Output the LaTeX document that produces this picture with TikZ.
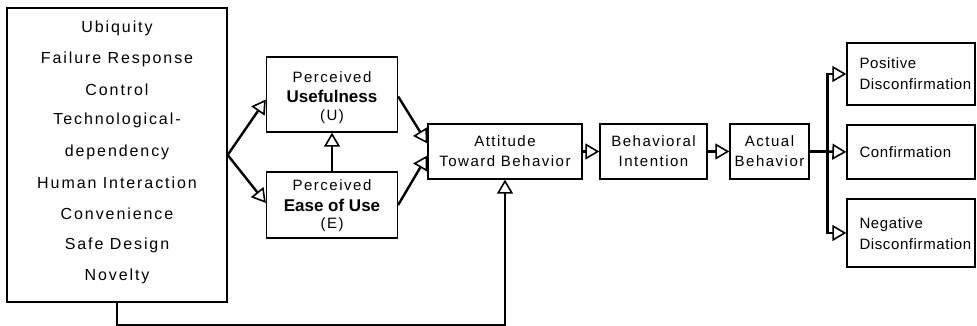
\documentclass[tikz,border=0pt]{standalone}
\usepackage{fontspec}
\setmainfont{Liberation Sans}[LetterSpace=10]
\usetikzlibrary{arrows.meta,calc}
\begin{document}
\begin{tikzpicture}[x=1pt,y=-1pt,
  box/.style={draw,line width=1.3pt,inner sep=0pt,align=center},
  lbl/.style={font=\fontsize{15}{20}\selectfont},
  outlbl/.style={anchor=west,align=left,font=\fontsize{15}{21}\selectfont\addfontfeature{LetterSpace=4}},
  bold/.style={font=\fontsize{17}{20}\selectfont\bfseries\addfontfeature{LetterSpace=0}},
  conn/.style={line width=2.4pt,-{Triangle[open,length=14pt,width=16pt,line width=1.6pt]}},
  plain/.style={line width=2.4pt}]
\useasboundingbox (0,0) rectangle (977,326);

% factor box
\node[box,minimum width=220pt,minimum height=294pt] (lb) at (117,155) {};
\foreach \t/\yy in {Ubiquity/28,Failure Response/59,Control/90,Technological-/120,dependency/152,Human Interaction/183,Convenience/214,Safe Design/245,Novelty/276}
  \node[font=\fontsize{16}{20}\selectfont\addfontfeature{LetterSpace=12}] at (117,\yy) {\t};

% TAM constructs
\node[box,minimum width=131pt,minimum height=75pt] (pu) at (332,94.5) {};
\node[lbl] at (332,77) {Perceived};
\node[bold] at (332,96) {Usefulness};
\node[lbl] at (332,117) {(U)};

\node[box,minimum width=131pt,minimum height=66pt] (peou) at (332,205) {};
\node[lbl] at (332,185) {Perceived};
\node[bold] at (332,205) {Ease of Use};
\node[lbl] at (332,225) {(E)};

\node[box,lbl,minimum width=154pt,minimum height=55pt] (att) at (505,151.5) {Attitude\\Toward Behavior};
\node[box,lbl,minimum width=107pt,minimum height=55pt] (bi) at (653.5,151.5) {Behavioral\\Intention};
\node[box,lbl,minimum width=79pt,minimum height=55pt] (ab) at (769.5,151.5) {Actual\\Behavior};

% outcome boxes
\node[box,minimum width=128pt,minimum height=62pt] (pos) at (911,74) {};
\node[outlbl] at (856,74) {Positive\\Disconfirmation};
\node[box,minimum width=128pt,minimum height=54pt] (conf) at (911,152) {};
\node[outlbl] at (856,152) {Confirmation};
\node[box,minimum width=128pt,minimum height=68pt] (neg) at (911,233) {};
\node[outlbl] at (856,234) {Negative\\Disconfirmation};

% connectors
\draw[conn] (lb.east) -- ($(pu.west)+(0pt,-5pt)$);
\draw[conn] (lb.east) -- ($(peou.west)+(0pt,2pt)$);
\draw[conn] (peou.north) -- (pu.south);
\draw[conn] ($(pu.east)+(0pt,-2pt)$) -- ($(att.west)+(0pt,8pt)$);
\draw[conn] (peou.east) -- ($(att.west)+(0pt,-4pt)$);
\draw[conn] (att.east) -- (bi.west);
\draw[conn] (bi.east) -- (ab.west);
\draw[conn] (lb.south) -- ++(0,23) -| (att.south);
\coordinate (br) at ($(ab.east)+(18pt,0pt)$);
\draw[plain] (ab.east) -- (br);
\draw[conn] (br) |- (pos.west);
\draw[conn] (br) -- (conf.west);
\draw[conn] (br) |- (neg.west);
\end{tikzpicture}
\end{document}
